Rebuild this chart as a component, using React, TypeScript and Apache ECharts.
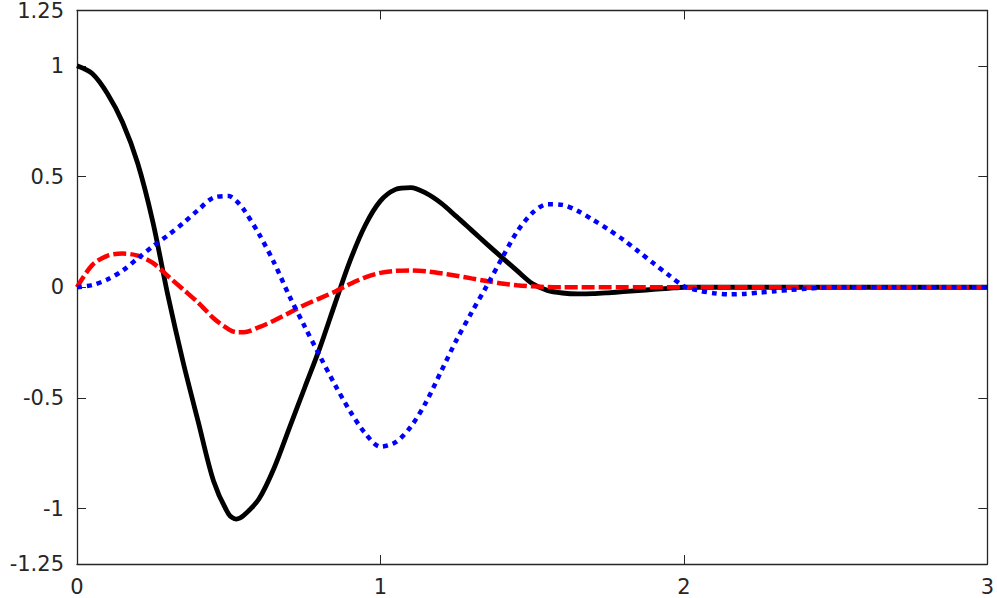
import React, { useEffect, useRef } from "react";
import * as echarts from "echarts";

const xs = [
  0, 0.05, 0.1, 0.15, 0.2, 0.25, 0.3, 0.35, 0.4, 0.45, 0.5, 0.525, 0.55, 0.6, 0.65, 0.7, 0.75, 0.8, 0.85, 0.9, 0.95,
  1.0, 1.05, 1.1, 1.15, 1.2, 1.25, 1.3, 1.35, 1.4, 1.45, 1.5, 1.55, 1.6, 1.65, 1.7, 1.75, 1.8, 1.85, 1.9, 1.95,
  2.0, 2.05, 2.1, 2.15, 2.2, 2.25, 2.3, 2.35, 2.4, 2.45, 2.5, 2.55, 2.6, 2.65, 2.7, 2.75, 2.8, 2.85, 2.9, 2.95, 3.0,
];

const blackVals = [
  1.0, 0.965, 0.875, 0.745, 0.56, 0.295, -0.04, -0.34, -0.61, -0.875, -1.025, -1.047, -1.03, -0.955, -0.815, -0.635, -0.455, -0.275, -0.075, 0.12, 0.28,
  0.39, 0.442, 0.45, 0.425, 0.38, 0.32, 0.258, 0.196, 0.135, 0.075, 0.017, -0.014, -0.026, -0.03, -0.029, -0.025, -0.02, -0.015, -0.01, -0.005,
  0, 0, 0, 0, 0, 0, 0, 0, 0, 0, 0, 0, 0, 0, 0, 0, 0, 0, 0, 0, 0,
];

const blueVals = [
  0, 0.01, 0.035, 0.075, 0.13, 0.185, 0.235, 0.29, 0.35, 0.405, 0.412, 0.39, 0.35, 0.24, 0.11, -0.04, -0.176, -0.31, -0.44, -0.56, -0.66,
  -0.72, -0.70, -0.63, -0.52, -0.38, -0.24, -0.115, 0.005, 0.13, 0.25, 0.335, 0.375, 0.372, 0.345, 0.305, 0.262, 0.215, 0.162, 0.108, 0.055,
  0.005, -0.015, -0.027, -0.032, -0.03, -0.024, -0.018, -0.012, -0.007, -0.003, 0, 0, 0, 0, 0, 0, 0, 0, 0, 0, 0,
];

const redVals = [
  0, 0.1, 0.142, 0.152, 0.143, 0.11, 0.05, -0.01, -0.07, -0.14, -0.19, -0.203, -0.203, -0.18, -0.15, -0.115, -0.08, -0.05, -0.02, 0.015, 0.045,
  0.065, 0.074, 0.076, 0.072, 0.063, 0.052, 0.04, 0.028, 0.017, 0.009, 0.004, 0.001, 0, 0, 0, 0, 0, 0, 0, 0,
  0, 0, 0, 0, 0, 0, 0, 0, 0, 0, 0, 0, 0, 0, 0, 0, 0, 0, 0, 0, 0,
];

const yTicks = [-1.25, -1, -0.5, 0, 0.5, 1, 1.25];
const yInnerTicks = [-1, -0.5, 0, 0.5, 1];

const axisColor = "#262626";
const labelFont = { fontFamily: "DejaVu Sans", fontSize: 21, color: axisColor };

export default function App() {
  const ref = useRef<HTMLDivElement>(null);
  useEffect(() => {
    if (!ref.current) return;
    const chart = echarts.init(ref.current, undefined, { renderer: "svg" });
    const pairs = (vals: number[]) => xs.map((x, i) => [x, vals[i]]);
    chart.setOption({
      animation: false,
      backgroundColor: "#ffffff",
      grid: { left: 77, right: 8, top: 8, bottom: 34, containLabel: false },
      xAxis: [
        {
          type: "value",
          min: 0,
          max: 3,
          interval: 1,
          position: "bottom",
          axisLine: { show: true, onZero: false, lineStyle: { color: axisColor, width: 1.3 } },
          axisTick: { show: true, inside: true, length: 9, lineStyle: { color: axisColor } },
          axisLabel: { ...labelFont, margin: 12 },
          splitLine: { show: false },
        },
        {
          type: "value",
          min: 0,
          max: 3,
          interval: 1,
          position: "top",
          axisLine: { show: true, onZero: false, lineStyle: { color: axisColor, width: 1.3 } },
          axisTick: { show: true, inside: true, length: 9, lineStyle: { color: axisColor } },
          axisLabel: { show: false },
          splitLine: { show: false },
        },
      ],
      yAxis: [
        {
          type: "value",
          min: -1.25,
          max: 1.25,
          position: "left",
          axisLine: { show: true, onZero: false, lineStyle: { color: axisColor, width: 1.3 } },
          axisTick: { show: true, inside: true, length: 9, customValues: yInnerTicks, lineStyle: { color: axisColor } },
          axisLabel: { ...labelFont, margin: 13, customValues: yTicks, formatter: (v: number) => String(v) },
          splitLine: { show: false },
        },
        {
          type: "value",
          min: -1.25,
          max: 1.25,
          position: "right",
          axisLine: { show: true, onZero: false, lineStyle: { color: axisColor, width: 1.3 } },
          axisTick: { show: true, inside: true, length: 9, customValues: yInnerTicks, lineStyle: { color: axisColor } },
          axisLabel: { show: false },
          splitLine: { show: false },
        },
      ],
      series: [
        {
          type: "line",
          data: pairs(blackVals),
          smooth: 0.3,
          showSymbol: false,
          lineStyle: { color: "#000000", width: 4.8 },
          z: 2,
        },
        {
          type: "line",
          data: pairs(redVals),
          smooth: 0.3,
          showSymbol: false,
          lineStyle: { color: "#ff0000", width: 4.5, type: [13, 4], cap: "butt" },
          z: 3,
        },
        {
          type: "line",
          data: pairs(blueVals),
          smooth: 0.3,
          showSymbol: false,
          lineStyle: { color: "#0000ff", width: 4.5, type: [5, 5], cap: "butt" },
          z: 4,
        },
      ],
    });
    return () => chart.dispose();
  }, []);
  return <div ref={ref} style={{ width: 997, height: 598, position: "absolute", left: 0, top: 0 }} />;
}
